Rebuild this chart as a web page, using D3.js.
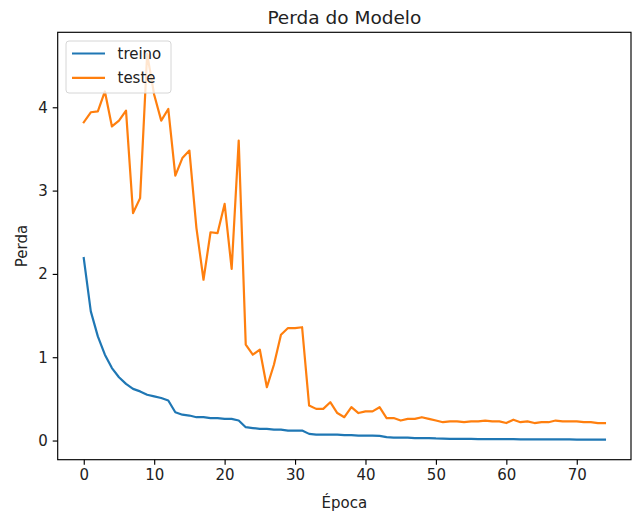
<!DOCTYPE html>
<html>
<head>
<meta charset="utf-8">
<script src="https://cdn.jsdelivr.net/npm/d3@7"></script>
<style>
  body { margin: 0; background: #fff; }
  svg { font-family: "DejaVu Sans", sans-serif; }
</style>
</head>
<body>
<svg width="634" height="514"></svg>
<script>
// Loss per epoch
let treino = [2.19, 1.55, 1.25, 1.03, 0.87, 0.76, 0.68, 0.62, 0.59, 0.55,
    0.53, 0.51, 0.48, 0.34, 0.31, 0.30, 0.28, 0.28, 0.27, 0.27,
    0.26, 0.26, 0.24, 0.16, 0.15, 0.14, 0.14, 0.13, 0.13, 0.12,
    0.12, 0.12, 0.08, 0.07, 0.07, 0.07, 0.07, 0.065, 0.065, 0.06,
    0.06, 0.06, 0.055, 0.04, 0.035, 0.035, 0.035, 0.03, 0.03, 0.03,
    0.025, 0.022, 0.02, 0.02, 0.02, 0.019, 0.018, 0.018, 0.017, 0.017,
    0.016, 0.016, 0.015, 0.015, 0.015, 0.014, 0.014, 0.013, 0.013, 0.013,
    0.012, 0.012, 0.012, 0.011, 0.011];
let teste = [3.82, 3.94, 3.95, 4.19, 3.77, 3.84, 3.96, 2.73, 2.91, 4.64,
    4.15, 3.84, 3.98, 3.18, 3.39, 3.48, 2.55, 1.93, 2.50, 2.49,
    2.84, 2.06, 3.60, 1.15, 1.03, 1.09, 0.64, 0.91, 1.27, 1.35,
    1.35, 1.36, 0.42, 0.38, 0.38, 0.46, 0.33, 0.28, 0.40, 0.33,
    0.35, 0.35, 0.40, 0.27, 0.27, 0.24, 0.26, 0.26, 0.28, 0.26,
    0.24, 0.22, 0.23, 0.23, 0.22, 0.23, 0.23, 0.24, 0.23, 0.23,
    0.21, 0.25, 0.22, 0.23, 0.21, 0.22, 0.22, 0.24, 0.23, 0.23,
    0.23, 0.22, 0.22, 0.21, 0.21];
let xTicks = [0, 10, 20, 30, 40, 50, 60, 70];
let yTicks = [0, 1, 2, 3, 4];
let seriesNames = ["treino", "teste"];
let colors = ["#1f77b4", "#ff7f0e"];

let svg = d3.select("svg");

// Axes box
let axLeft = 57.7, axRight = 631, axTop = 32.3, axBottom = 459.7;

let x = d3.scaleLinear().domain([-3.7, 77.7]).range([axLeft, axRight]);
let y = d3.scaleLinear().domain([-0.23, 4.90]).range([axBottom, axTop]);

let line = d3.line()
    .x((d, i) => x(i))
    .y(d => y(d));

// Lines
[treino, teste].forEach((s, k) => {
    svg.append("path")
        .datum(s)
        .attr("fill", "none")
        .attr("stroke", colors[k])
        .attr("stroke-width", 2.2)
        .attr("stroke-linejoin", "round")
        .attr("stroke-linecap", "square")
        .attr("d", line);
});

// Frame
svg.append("rect")
    .attr("x", axLeft).attr("y", axTop)
    .attr("width", axRight - axLeft).attr("height", axBottom - axTop)
    .attr("fill", "none")
    .attr("stroke", "#000")
    .attr("stroke-width", 1.15);

// Axes
let xAxis = svg.append("g")
    .attr("transform", `translate(0,${axBottom})`)
    .call(d3.axisBottom(x).tickValues(xTicks).tickSize(5).tickPadding(5).tickFormat(d3.format("d")));
let yAxis = svg.append("g")
    .attr("transform", `translate(${axLeft},0)`)
    .call(d3.axisLeft(y).tickValues(yTicks).tickSize(5).tickPadding(5).tickFormat(d3.format("d")));
[xAxis, yAxis].forEach(a => {
    a.select(".domain").remove();
    a.selectAll("line").attr("stroke", "#000").attr("stroke-width", 1.15);
    a.selectAll("text")
        .attr("fill", "#222")
        .style("font-family", "DejaVu Sans")
        .style("font-size", "15px");
});

// Title and labels
svg.append("text")
    .attr("x", (axLeft + axRight) / 2).attr("y", 23.5)
    .attr("text-anchor", "middle")
    .attr("fill", "#222")
    .style("font-size", "18.5px")
    .text("Perda do Modelo");
svg.append("text")
    .attr("x", (axLeft + axRight) / 2).attr("y", 508)
    .attr("text-anchor", "middle")
    .attr("fill", "#222")
    .style("font-size", "15px")
    .text("Época");
svg.append("text")
    .attr("transform", `translate(26.5,${(axTop + axBottom) / 2}) rotate(-90)`)
    .attr("text-anchor", "middle")
    .attr("fill", "#222")
    .style("font-size", "15px")
    .text("Perda");

// Legend
let lg = svg.append("g");
lg.append("rect")
    .attr("x", 66).attr("y", 41)
    .attr("width", 105).attr("height", 52)
    .attr("rx", 3)
    .attr("fill", "#fff").attr("fill-opacity", 0.8)
    .attr("stroke", "#d6d6d6").attr("stroke-width", 1);
seriesNames.forEach((name, k) => {
    let ly = 53.5 + k * 24.3;
    lg.append("line")
        .attr("x1", 72).attr("x2", 105)
        .attr("y1", ly).attr("y2", ly)
        .attr("stroke", colors[k]).attr("stroke-width", 2.2);
    lg.append("text")
        .attr("x", 117.5).attr("y", ly + 5.5)
        .attr("fill", "#222")
        .style("font-size", "15px")
        .text(name);
});
</script>
</body>
</html>
